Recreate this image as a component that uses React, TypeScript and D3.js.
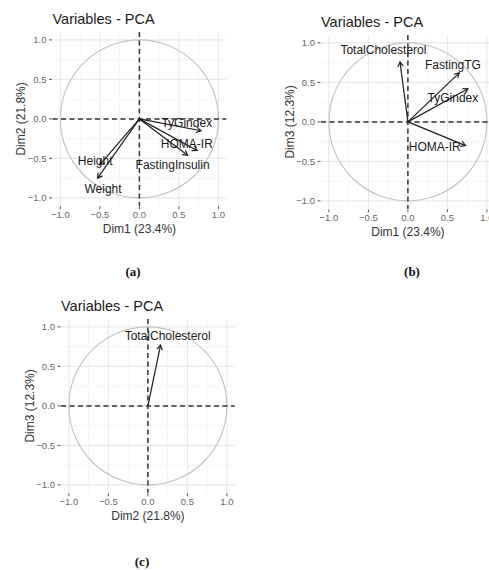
import React from 'react';
import * as d3 from 'd3';

// 各面板的變數與座標
const panelANames = ['TyGindex', 'HOMA-IR', 'FastingInsulin', 'Height', 'Weight'];
const panelADim1 = [0.78, 0.73, 0.61, -0.50, -0.53];
const panelADim2 = [-0.15, -0.40, -0.46, -0.58, -0.75];
// ggrepel 標籤位置（資料單位）
const panelALabelX = [0.60, 0.60, 0.42, -0.56, -0.46];
const panelALabelY = [-0.05, -0.32, -0.58, -0.53, -0.89];

const panelBNames = ['TotalCholesterol', 'FastingTG', 'TyGindex', 'HOMA-IR'];
const panelBDim1 = [-0.10, 0.65, 0.76, 0.73];
const panelBDim3 = [0.76, 0.62, 0.42, -0.30];
const panelBLabelX = [-0.31, 0.57, 0.57, 0.34];
const panelBLabelY = [0.91, 0.72, 0.31, -0.31];

const panelCNames = ['TotalCholesterol'];
const panelCDim2 = [0.16];
const panelCDim3 = [0.77];
const panelCLabelX = [0.25];
const panelCLabelY = [0.89];

const MAJOR_TICKS = [-1.0, -0.5, 0.0, 0.5, 1.0];
const MINOR_TICKS = [-0.75, -0.25, 0.25, 0.75];

const UNIT = 79;
const SIZE = UNIT * 2.2;
const FONT = '"Liberation Sans", Arial, Helvetica, sans-serif';
const fmt = d3.format('.1f');

interface PanelProps {
    left: number;
    top: number;
    xTitle: string;
    yTitle: string;
    names: string[];
    xs: number[];
    ys: number[];
    labelXs: number[];
    labelYs: number[];
}

const PcaPanel: React.FC<PanelProps> = ({ left, top, xTitle, yTitle, names, xs, ys, labelXs, labelYs }) => {
    const x = d3.scaleLinear().domain([-1.1, 1.1]).range([left, left + SIZE]);
    const y = d3.scaleLinear().domain([-1.1, 1.1]).range([top + SIZE, top]);
    const bottom = top + SIZE;
    const right = left + SIZE;

    const arrowHead = (x0: number, y0: number, x1: number, y1: number) => {
        const a = Math.atan2(y1 - y0, x1 - x0);
        const len = 5.5, spread = Math.PI / 6;
        const p1 = [x1 - len * Math.cos(a - spread), y1 - len * Math.sin(a - spread)];
        const p2 = [x1 - len * Math.cos(a + spread), y1 - len * Math.sin(a + spread)];
        return `M${p1[0]},${p1[1]}L${x1},${y1}L${p2[0]},${p2[1]}`;
    };

    return (
        <g>
            {/* 網格 */}
            {MINOR_TICKS.map(t => (
                <g key={'mn' + t}>
                    <line x1={x(t)} x2={x(t)} y1={top} y2={bottom} stroke="#f3f3f3" strokeWidth={0.8} />
                    <line x1={left} x2={right} y1={y(t)} y2={y(t)} stroke="#f3f3f3" strokeWidth={0.8} />
                </g>
            ))}
            {MAJOR_TICKS.map(t => (
                <g key={'mj' + t}>
                    <line x1={x(t)} x2={x(t)} y1={top} y2={bottom} stroke="#e9e9e9" strokeWidth={1.1} />
                    <line x1={left} x2={right} y1={y(t)} y2={y(t)} stroke="#e9e9e9" strokeWidth={1.1} />
                </g>
            ))}

            <circle cx={x(0)} cy={y(0)} r={x(1) - x(0)} fill="none" stroke="#c2c2c2" strokeWidth={1.1} />

            <line x1={left} x2={right} y1={y(0)} y2={y(0)} stroke="#333" strokeWidth={1.5} strokeDasharray="5,3.5" />
            <line x1={x(0)} x2={x(0)} y1={top} y2={bottom} stroke="#333" strokeWidth={1.5} strokeDasharray="5,3.5" />

            {/* 箭頭 */}
            {names.map((n, i) => (
                <g key={n} stroke="#1e1e1e" strokeWidth={1.2} fill="none">
                    <line x1={x(0)} y1={y(0)} x2={x(xs[i])} y2={y(ys[i])} />
                    <path d={arrowHead(x(0), y(0), x(xs[i]), y(ys[i]))} />
                </g>
            ))}
            {names.map((n, i) => (
                <text key={'l' + n} x={x(labelXs[i])} y={y(labelYs[i])} dy="0.35em" textAnchor="middle"
                    fontFamily={FONT} fontSize={12} fill="#1a1a1a">{n}</text>
            ))}

            {/* 座標軸 */}
            {MAJOR_TICKS.map(t => (
                <g key={'ty' + t}>
                    <line x1={left - 3.5} x2={left - 0.5} y1={y(t)} y2={y(t)} stroke="#555" strokeWidth={1} />
                    <text x={left - 6} y={y(t)} dy="0.35em" textAnchor="end" fontFamily={FONT} fontSize={9.5} fill="#666">{fmt(t)}</text>
                    <line x1={x(t)} x2={x(t)} y1={bottom + 0.5} y2={bottom + 3.5} stroke="#555" strokeWidth={1} />
                    <text x={x(t)} y={bottom + 12.5} textAnchor="middle" fontFamily={FONT} fontSize={9.5} fill="#666">{fmt(t)}</text>
                </g>
            ))}
            <text x={x(0)} y={bottom + 27} textAnchor="middle" fontFamily={FONT} fontSize={12} fill="#333">{xTitle}</text>
            <text transform={`translate(${left - 27.5},${y(0)}) rotate(-90)`} textAnchor="middle" fontFamily={FONT} fontSize={12} fill="#333">{yTitle}</text>
            <text x={left} y={top - 8} fontFamily={FONT} fontSize={14.5} fill="#1a1a1a">Variables - PCA</text>
        </g>
    );
};

export default function App() {
    return (
        <svg width={489} height={570} style={{ position: 'absolute', left: 0, top: 0, background: '#fff' }}>
            <rect width={489} height={570} fill="#fff" />
            <PcaPanel left={52.5} top={32} xTitle="Dim1 (23.4%)" yTitle="Dim2 (21.8%)"
                names={panelANames} xs={panelADim1} ys={panelADim2} labelXs={panelALabelX} labelYs={panelALabelY} />
            <PcaPanel left={321} top={35} xTitle="Dim1 (23.4%)" yTitle="Dim3 (12.3%)"
                names={panelBNames} xs={panelBDim1} ys={panelBDim3} labelXs={panelBLabelX} labelYs={panelBLabelY} />
            <PcaPanel left={61} top={319} xTitle="Dim2 (21.8%)" yTitle="Dim3 (12.3%)"
                names={panelCNames} xs={panelCDim2} ys={panelCDim3} labelXs={panelCLabelX} labelYs={panelCLabelY} />
            <text x={133} y={276} textAnchor="middle" fontFamily='"Liberation Serif", serif' fontWeight="bold" fontSize={13} fill="#111">(a)</text>
            <text x={412} y={276} textAnchor="middle" fontFamily='"Liberation Serif", serif' fontWeight="bold" fontSize={13} fill="#111">(b)</text>
            <text x={142} y={566} textAnchor="middle" fontFamily='"Liberation Serif", serif' fontWeight="bold" fontSize={13} fill="#111">(c)</text>
        </svg>
    );
}
